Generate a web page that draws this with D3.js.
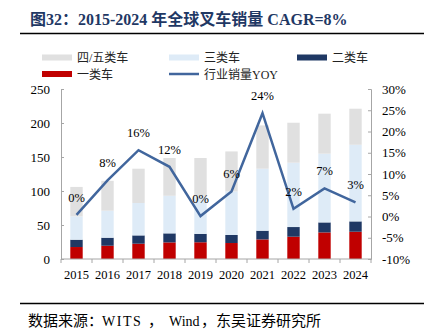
<!DOCTYPE html>
<html>
<head>
<meta charset="utf-8">
<script src="https://cdn.jsdelivr.net/npm/d3@7"></script>
<style>
  body { margin: 0; background: #fff; }
  svg text { font-family: "Liberation Serif", "Noto Sans CJK SC", serif; }
</style>
</head>
<body>
<div id="chart"></div>
<script>
// Data (万台)
const years = ['2015', '2016', '2017', '2018', '2019', '2020', '2021', '2022', '2023', '2024'];
const class1 = [17.6, 19.5, 22.5, 24.4, 24.6, 23.5, 28.8, 32.8, 39.1, 40.1];
const class2 = [10.8, 11.8, 12.2, 13.3, 12.4, 11.8, 12.8, 14.2, 14.7, 15.2];
const class3 = [34.2, 39.7, 47.7, 55.3, 55.0, 64.1, 91.2, 94.6, 101.1, 112.7];
const class45 = [43.4, 44.0, 50.4, 55.5, 56.5, 58.8, 63.7, 58.8, 58.8, 53.0];
const yoy = [0.4, 8.5, 15.6, 11.7, 0.1, 5.9, 24.3, 1.8, 6.6, 3.3];
const yoyLabels = ['0%', '8%', '16%', '12%', '0%', '6%', '24%', '2%', '7%', '3%'];
const leftTicks = [0, 50, 100, 150, 200, 250];
const rightTicks = [-10, -5, 0, 5, 10, 15, 20, 25, 30];

const W = 424, H = 335;
const margin = { top: 89, right: 53, bottom: 76, left: 61 };
const width = W - margin.left - margin.right;
const height = H - margin.top - margin.bottom;

const colors = {
  c1: '#c00000',
  c2: '#1f3864',
  c3: '#deebf7',
  c45: '#e0e0e0',
  line: '#41669d',
  title: '#1f3864',
  axis: '#a6a6a6',
};

const series = [
  { key: 'c1', name: '一类车', values: class1 },
  { key: 'c2', name: '二类车', values: class2 },
  { key: 'c3', name: '三类车', values: class3 },
  { key: 'c45', name: '四/五类车', values: class45 },
];

const svg = d3.select('#chart').append('svg')
  .attr('width', W).attr('height', H);

// title
svg.append('text')
  .attr('x', 30).attr('y', 25)
  .attr('fill', colors.title)
  .style('font-size', '16px').style('font-weight', 'bold')
  .text('图32：2015-2024 年全球叉车销量 CAGR=8%');

svg.append('line')
  .attr('x1', 20).attr('x2', W).attr('y1', 33.5).attr('y2', 33.5)
  .attr('stroke', '#000').attr('stroke-width', 1.6);

svg.append('line')
  .attr('x1', 20).attr('x2', W).attr('y1', 303.5).attr('y2', 303.5)
  .attr('stroke', '#000').attr('stroke-width', 1.6);

// source note, pieces placed like the original's spacing
const source = svg.append('text')
  .attr('y', 326)
  .attr('fill', '#000')
  .style('font-size', '15px');
[
  { t: '数据来源：', x: 28 },
  { t: 'WITS', x: 102, ls: 1.5, fs: 14 },
  { t: '，', x: 148 },
  { t: 'Wind', x: 169, fs: 14 },
  { t: '，', x: 201 },
  { t: '东吴证券研究所', x: 216 },
].forEach((p) => {
  source.append('tspan')
    .attr('x', p.x)
    .style('letter-spacing', `${p.ls || 0}px`)
    .style('font-size', `${p.fs || 15}px`)
    .text(p.t);
});

// legend
const legendItems = [
  { type: 'rect', color: colors.c45, label: '四/五类车', x: 42, y: 57.5 },
  { type: 'rect', color: colors.c3, label: '三类车', x: 169, y: 57.5 },
  { type: 'rect', color: colors.c2, label: '二类车', x: 297, y: 57.5 },
  { type: 'rect', color: colors.c1, label: '一类车', x: 42, y: 74 },
  { type: 'line', color: colors.line, label: '行业销量YOY', x: 169, y: 74 },
];
const legend = svg.append('g').attr('class', 'legend');
legendItems.forEach((d) => {
  if (d.type === 'rect') {
    legend.append('rect')
      .attr('x', d.x).attr('y', d.y - 3).attr('width', 30).attr('height', 6)
      .attr('fill', d.color);
  } else {
    legend.append('line')
      .attr('x1', d.x).attr('x2', d.x + 30).attr('y1', d.y).attr('y2', d.y)
      .attr('stroke', d.color).attr('stroke-width', 2.5);
  }
  legend.append('text')
    .attr('x', d.x + 35).attr('y', d.y + 4.5)
    .style('font-size', '12px')
    .attr('fill', '#222')
    .text(d.label);
});

const plot = svg.append('g')
  .attr('transform', `translate(${margin.left},${margin.top})`);

const x = d3.scaleBand().domain(years).range([0, width])
  .paddingInner(0.6).paddingOuter(0.3);
const y = d3.scaleLinear().domain([0, 250]).range([height, 0]);
const y2 = d3.scaleLinear().domain([-10, 30]).range([height, 0]);

// stacked bars
const rows = years.map((yr, i) => {
  const r = { year: yr };
  series.forEach((s) => { r[s.key] = s.values[i]; });
  return r;
});
const stacked = d3.stack().keys(series.map((s) => s.key))(rows);

plot.append('g').attr('class', 'bars')
  .selectAll('g')
  .data(stacked)
  .join('g')
  .attr('fill', (d) => colors[d.key])
  .selectAll('rect')
  .data((d) => d)
  .join('rect')
  .attr('x', (d) => x(d.data.year))
  .attr('width', x.bandwidth())
  .attr('y', (d) => y(d[1]))
  .attr('height', (d) => y(d[0]) - y(d[1]));

// axes
const leftAxis = plot.append('g')
  .call(d3.axisLeft(y).tickValues(leftTicks).tickSize(-3).tickPadding(11));
const rightAxis = plot.append('g')
  .attr('transform', `translate(${width},0)`)
  .call(d3.axisRight(y2).tickValues(rightTicks).tickSize(-3).tickPadding(11)
    .tickFormat((d) => `${d}%`));

const step = x.step();
const bounds = d3.range(years.length + 1).map((i) => x(years[0]) - step * 0.3 + i * step);
const bottom = plot.append('g').attr('transform', `translate(0,${height})`);
bottom.append('line')
  .attr('x1', 0).attr('x2', width).attr('y1', 0).attr('y2', 0)
  .attr('stroke', colors.axis);
bottom.selectAll('line.tick')
  .data(bounds)
  .join('line')
  .attr('class', 'tick')
  .attr('x1', (d) => d).attr('x2', (d) => d)
  .attr('y1', 0).attr('y2', 4)
  .attr('stroke', colors.axis);
bottom.selectAll('text')
  .data(years)
  .join('text')
  .attr('x', (d) => x(d) + x.bandwidth() / 2)
  .attr('y', 20)
  .attr('text-anchor', 'middle')
  .style('font-size', '12.5px')
  .attr('fill', '#000')
  .text((d) => d);

[leftAxis, rightAxis].forEach((a) => {
  a.select('.domain').attr('stroke', colors.axis);
  a.selectAll('.tick line').attr('stroke', colors.axis);
  a.selectAll('.tick text')
    .style('font-size', '13px')
    .style('font-family', '"Liberation Serif", serif')
    .attr('fill', '#000');
});

// YOY line
const cx = (i) => x(years[i]) + x.bandwidth() / 2;
const line = d3.line()
  .x((d, i) => cx(i))
  .y((d) => y2(d));

plot.append('path')
  .datum(yoy)
  .attr('fill', 'none')
  .attr('stroke', colors.line)
  .attr('stroke-width', 2.5)
  .attr('stroke-linejoin', 'miter')
  .attr('d', line);

plot.append('g').attr('class', 'yoy-labels')
  .selectAll('text')
  .data(yoy)
  .join('text')
  .attr('x', (d, i) => cx(i))
  .attr('y', (d) => y2(d) - 13)
  .attr('text-anchor', 'middle')
  .style('font-size', '12.5px')
  .attr('fill', '#000')
  .text((d, i) => yoyLabels[i]);
</script>
</body>
</html>
